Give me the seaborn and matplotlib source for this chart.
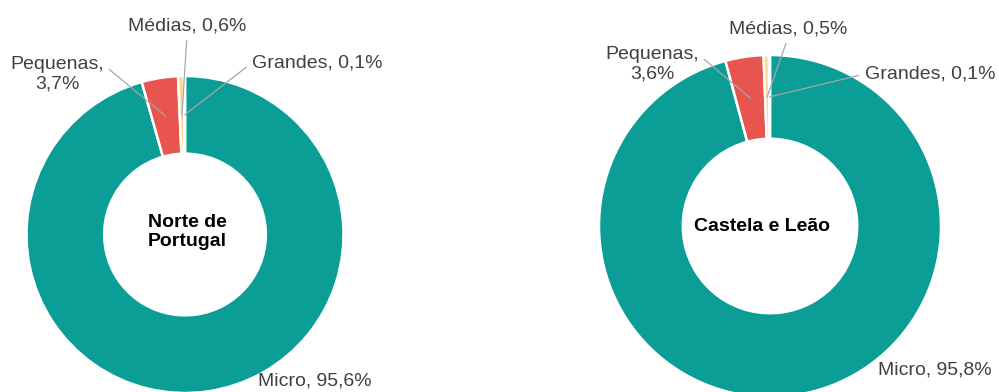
import matplotlib
matplotlib.use("Agg")
import matplotlib.pyplot as plt
import seaborn as sns
import numpy as np

# ---- data ----
categories = ["Micro", "Pequenas", "Médias", "Grandes"]
norte_values = [95.6, 3.7, 0.6, 0.1]
castela_values = [95.8, 3.6, 0.5, 0.1]
norte_labels = ["Micro, 95,6%", "Pequenas,\n3,7%", "Médias, 0,6%", "Grandes, 0,1%"]
castela_labels = ["Micro, 95,8%", "Pequenas,\n3,6%", "Médias, 0,5%", "Grandes, 0,1%"]
region_titles = ["Norte de\nPortugal", "Castela e Leão"]

# ---- style ----
sns.set_theme(style="white")
plt.rcParams['font.family'] = ['Liberation Sans', 'DejaVu Sans']
colors = ["#0A9E96", "#E8544E", "#F6D98E", "#FFF1C4"]
label_color = "#404040"
line_color = "#A6A6A6"

W, H = 999, 392
fig = plt.figure(figsize=(W / 100, H / 100), dpi=100)
ax = fig.add_axes([0, 0, 1, 1])

# layout (pixel coords, origin top-left)
donuts = [
    dict(center=(185, 234.5), radius=158.5, title_pos=(187, 232),
         label_pos=[(315, 381), (57, 74), (187, 26), (317, 63)]),
    dict(center=(770, 226), radius=171, title_pos=(762, 226),
         label_pos=[(935, 370), (652, 64), (788, 29), (930, 74)]),
]
relpos = [None, (1.0, 0.75), (0.5, 0.0), (0.0, 0.5)]

def flip(p):
    return (p[0], H - p[1])

for values, labels, title, d in zip([norte_values, castela_values],
                                    [norte_labels, castela_labels],
                                    region_titles, donuts):
    cx, cy = flip(d["center"])
    r = d["radius"]
    ax.pie(values, colors=colors, startangle=90, counterclock=False,
           radius=r, center=(cx, cy), frame=True,
           wedgeprops=dict(width=0.49 * r, edgecolor="white", linewidth=1.8))
    total = sum(values)
    cum = np.cumsum([0] + list(values))
    rm = r * (1 - 0.49 / 2)
    for i, (v, lab) in enumerate(zip(values, labels)):
        tx, ty = flip(d["label_pos"][i])
        if relpos[i] is None:
            ax.text(tx, ty, lab, ha="center", va="center", fontsize=14,
                    color=label_color)
            continue
        ang = np.deg2rad(90 - 360 * (cum[i] + v / 2) / total)
        px, py = cx + rm * np.cos(ang), cy + rm * np.sin(ang)
        ax.annotate(lab, xy=(px, py), xytext=(tx, ty), ha="center", va="center",
                    fontsize=14, color=label_color, multialignment="center",
                    arrowprops=dict(arrowstyle="-", color=line_color, lw=0.9,
                                    shrinkA=2, shrinkB=0, relpos=relpos[i]))
    tx, ty = flip(d["title_pos"])
    ax.text(tx, ty, title, ha="center", va="center", fontsize=14,
            fontweight="bold", color="black", multialignment="center",
            linespacing=1.15)

ax.set_aspect("auto")
ax.set_xlim(0, W)
ax.set_ylim(0, H)
ax.axis("off")
fig.savefig("out.png", dpi=100, facecolor="white")
